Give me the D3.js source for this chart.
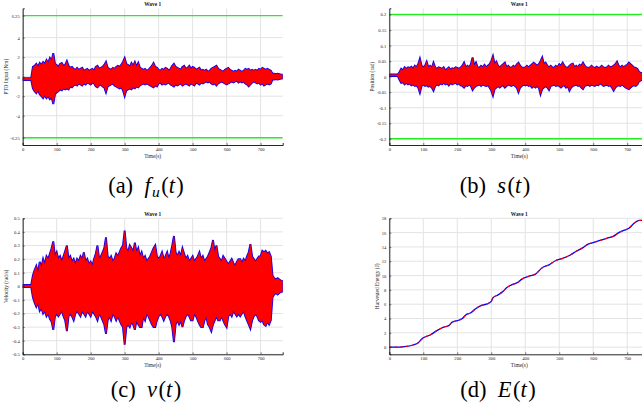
<!DOCTYPE html>
<html><head><meta charset="utf-8">
<script src="https://cdn.jsdelivr.net/npm/d3@7"></script>
<style>
html,body{margin:0;padding:0;background:#fff;}
svg{display:block;}
svg text{font-family:"Liberation Serif","Times New Roman",Times,"DejaVu Serif",serif;}
</style></head>
<body><svg id="c" width="642" height="416"></svg>
<script>
// ---------------- DATA ----------------
// sample times (s) for envelopes: 0,5,...,765
const sigTime = d3.range(0, 766, 5);

// PTO input (Nm) envelope, upper / lower
const fuUpper = [-0.15,-0.15,-0.15,-0.15,-0.15,-0.15,
1.0,1.1,1.3,1.0,1.4,1.2,1.5,1.3,1.7,1.4,1.9,1.6,2.4,1.3,1.2,1.0,1.3,1.4,1.1,1.2,1.6,1.1,0.9,1.0,
0.8,0.7,0.9,0.7,0.8,0.9,0.6,0.7,0.8,0.6,0.7,0.8,0.6,1.0,1.1,0.8,0.9,1.0,1.2,1.5,0.9,0.8,0.7,0.9,
0.8,1.0,1.1,1.0,1.2,1.5,1.9,1.3,1.2,1.0,1.4,1.1,1.5,1.0,1.4,0.9,0.8,0.7,0.8,0.6,0.7,0.9,1.1,1.4,
1.0,0.9,0.7,0.6,0.8,0.7,0.9,0.8,0.6,0.8,1.1,1.3,1.0,0.9,0.8,0.7,1.0,1.1,0.8,0.9,1.1,0.8,1.0,0.9,
0.7,0.8,0.9,0.6,0.7,0.6,0.7,0.5,0.6,0.8,0.9,1.0,1.1,0.8,0.7,0.6,0.5,0.7,0.8,0.9,0.7,0.6,0.5,0.6,
0.5,0.7,0.6,0.5,0.6,0.8,0.7,0.8,0.6,0.7,0.6,0.7,0.6,0.8,0.7,0.9,0.8,0.7,0.8,0.7,0.6,0.3,0.3,0.25,
0.3,0.25,0.2,0.2];
const fuLower = [-0.35,-0.35,-0.35,-0.35,-0.35,-0.35,
-1.2,-1.5,-1.7,-1.4,-1.8,-2.0,-2.2,-1.9,-2.2,-2.0,-2.3,-2.1,-2.8,-1.8,-1.6,-1.5,-1.3,-1.4,-1.2,-1.3,-1.2,-1.3,-1.0,-1.1,
-0.9,-0.8,-0.9,-0.7,-0.8,-0.9,-0.7,-0.8,-0.6,-0.7,-0.8,-0.6,-0.7,-1.0,-1.1,-0.9,-0.8,-1.0,-1.1,-1.6,-1.0,-0.9,-0.8,-0.7,
-0.9,-1.0,-1.1,-1.2,-1.1,-1.4,-2.0,-1.4,-1.3,-1.2,-1.3,-1.1,-1.2,-1.0,-1.1,-0.9,-0.8,-0.7,-0.8,-0.7,-0.8,-0.9,-1.0,-1.1,
-0.9,-1.0,-0.7,-0.6,-0.8,-0.7,-0.8,-0.7,-0.6,-0.8,-0.9,-1.0,-0.8,-0.9,-0.8,-0.7,-0.9,-0.8,-0.7,-0.8,-0.9,-0.7,-0.8,-0.9,
-0.6,-0.7,-0.8,-0.6,-0.7,-0.6,-0.5,-0.6,-0.5,-0.7,-0.8,-0.7,-0.9,-0.7,-0.6,-0.5,-0.6,-0.7,-0.8,-0.7,-0.6,-0.5,-0.6,-0.5,
-0.4,-0.6,-0.5,-0.6,-0.5,-0.7,-0.8,-1.0,-0.8,-0.6,-0.5,-0.6,-0.7,-0.6,-0.8,-0.7,-0.9,-0.8,-0.7,-0.8,-0.7,-0.3,-0.3,-0.25,
-0.3,-0.25,-0.2,-0.2];

// Position (rad) envelope
const sUpper = [0.007,0.007,0.007,0.007,0.007,0.007,
0.015,0.025,0.02,0.03,0.025,0.03,0.028,0.032,0.025,0.035,0.03,0.04,0.058,0.035,0.03,0.035,0.048,0.03,0.035,0.028,0.045,0.03,0.025,0.03,
0.028,0.025,0.03,0.02,0.025,0.03,0.022,0.027,0.025,0.03,0.028,0.025,0.03,0.035,0.045,0.03,0.035,0.03,0.04,0.062,0.035,0.045,0.03,0.028,
0.035,0.03,0.038,0.03,0.035,0.04,0.05,0.066,0.04,0.048,0.035,0.03,0.035,0.04,0.045,0.03,0.035,0.028,0.03,0.035,0.03,0.04,0.045,0.035,
0.03,0.028,0.03,0.035,0.03,0.035,0.04,0.045,0.04,0.035,0.04,0.05,0.062,0.04,0.045,0.035,0.03,0.035,0.03,0.028,0.035,0.03,0.04,0.035,
0.045,0.035,0.03,0.028,0.035,0.04,0.042,0.03,0.035,0.03,0.038,0.035,0.045,0.035,0.03,0.028,0.03,0.035,0.03,0.028,0.032,0.028,0.03,0.035,
0.03,0.028,0.03,0.035,0.03,0.032,0.035,0.04,0.048,0.035,0.03,0.035,0.03,0.035,0.038,0.045,0.04,0.035,0.03,0.028,0.025,0.015,0.012,0.012,
0.01,0.01,0.01,0.01];
const sLower = [0.002,0.002,0.002,0.002,0.002,0.002,
-0.01,-0.02,-0.018,-0.025,-0.02,-0.025,-0.022,-0.028,-0.025,-0.03,-0.028,-0.035,-0.052,-0.03,-0.025,-0.03,-0.028,-0.032,-0.03,-0.035,-0.045,-0.03,-0.025,-0.028,
-0.022,-0.025,-0.02,-0.025,-0.022,-0.028,-0.02,-0.025,-0.022,-0.02,-0.025,-0.022,-0.028,-0.03,-0.035,-0.028,-0.03,-0.025,-0.03,-0.043,-0.035,-0.03,-0.028,-0.025,
-0.03,-0.025,-0.028,-0.03,-0.028,-0.035,-0.045,-0.061,-0.04,-0.035,-0.03,-0.035,-0.03,-0.028,-0.035,-0.03,-0.025,-0.028,-0.03,-0.025,-0.03,-0.035,-0.05,-0.035,
-0.03,-0.025,-0.028,-0.025,-0.03,-0.028,-0.035,-0.03,-0.035,-0.03,-0.035,-0.057,-0.04,-0.035,-0.03,-0.035,-0.043,-0.03,-0.028,-0.025,-0.03,-0.028,-0.03,-0.035,
-0.03,-0.028,-0.035,-0.03,-0.045,-0.035,-0.03,-0.028,-0.025,-0.03,-0.028,-0.035,-0.04,-0.03,-0.028,-0.025,-0.03,-0.025,-0.028,-0.03,-0.025,-0.028,-0.022,-0.025,
-0.03,-0.028,-0.025,-0.03,-0.028,-0.035,-0.045,-0.035,-0.03,-0.028,-0.03,-0.025,-0.03,-0.035,-0.038,-0.04,-0.035,-0.03,-0.028,-0.03,-0.025,-0.015,-0.012,-0.01,
-0.01,-0.01,-0.01,-0.01];

// Velocity (rad/s) envelope
const vUpper = [0.01,0.01,0.01,0.01,0.01,0.01,
0.08,0.12,0.15,0.1,0.18,0.14,0.2,0.16,0.22,0.2,0.24,0.28,0.33,0.22,0.25,0.2,0.22,0.18,0.22,0.26,0.3,0.2,0.22,0.18,
0.2,0.16,0.2,0.18,0.22,0.2,0.25,0.18,0.2,0.16,0.18,0.15,0.2,0.24,0.3,0.2,0.22,0.25,0.28,0.36,0.22,0.2,0.22,0.18,
0.2,0.24,0.22,0.25,0.28,0.3,0.41,0.28,0.25,0.3,0.28,0.25,0.32,0.25,0.28,0.22,0.25,0.2,0.22,0.18,0.2,0.22,0.25,0.28,
0.3,0.22,0.2,0.22,0.25,0.2,0.22,0.25,0.2,0.24,0.3,0.37,0.25,0.22,0.25,0.22,0.28,0.24,0.2,0.22,0.18,0.2,0.22,0.18,
0.2,0.22,0.25,0.2,0.22,0.18,0.2,0.22,0.25,0.28,0.34,0.25,0.3,0.22,0.2,0.18,0.22,0.2,0.18,0.16,0.18,0.2,0.17,0.15,
0.18,0.2,0.2,0.17,0.2,0.18,0.22,0.25,0.31,0.22,0.2,0.18,0.2,0.22,0.22,0.26,0.25,0.26,0.24,0.25,0.22,0.08,0.06,0.05,
0.06,0.05,0.04,0.04];
const vLower = [-0.005,-0.005,-0.005,-0.005,-0.005,-0.005,
-0.08,-0.12,-0.15,-0.12,-0.18,-0.16,-0.2,-0.18,-0.22,-0.2,-0.24,-0.26,-0.32,-0.22,-0.2,-0.22,-0.2,-0.18,-0.22,-0.25,-0.33,-0.22,-0.2,-0.22,
-0.25,-0.2,-0.18,-0.2,-0.22,-0.18,-0.2,-0.22,-0.18,-0.2,-0.22,-0.18,-0.2,-0.22,-0.25,-0.2,-0.22,-0.25,-0.28,-0.35,-0.25,-0.22,-0.25,-0.2,
-0.22,-0.25,-0.22,-0.25,-0.28,-0.3,-0.43,-0.3,-0.28,-0.3,-0.26,-0.28,-0.32,-0.25,-0.28,-0.3,-0.3,-0.22,-0.25,-0.2,-0.22,-0.25,-0.28,-0.3,
-0.3,-0.25,-0.22,-0.2,-0.22,-0.25,-0.22,-0.2,-0.22,-0.25,-0.3,-0.41,-0.28,-0.25,-0.28,-0.25,-0.3,-0.25,-0.22,-0.2,-0.22,-0.25,-0.25,-0.2,
-0.22,-0.25,-0.28,-0.3,-0.3,-0.25,-0.22,-0.28,-0.3,-0.33,-0.28,-0.25,-0.22,-0.25,-0.25,-0.22,-0.25,-0.28,-0.3,-0.22,-0.2,-0.22,-0.18,-0.2,
-0.22,-0.2,-0.22,-0.2,-0.18,-0.22,-0.25,-0.28,-0.31,-0.25,-0.22,-0.2,-0.22,-0.25,-0.26,-0.25,-0.28,-0.29,-0.26,-0.28,-0.25,-0.08,-0.06,-0.05,
-0.06,-0.05,-0.04,-0.04];

// Harvested energy (J)
const eTime  = [0,30,50,70,85,95,100,120,140,160,175,185,200,215,225,240,255,270,285,300,305,320,335,345,360,380,390,410,430,450,470,490,510,530,550,570,585,600,620,640,660,675,690,705,720,735,765];
const eValue = [0,0,0.1,0.3,0.6,1.1,1.3,1.7,2.3,2.8,3.0,3.5,3.7,4.0,4.5,4.8,5.4,5.8,6.0,6.4,6.9,7.3,7.8,8.3,8.7,9.1,9.5,9.9,10.2,11.1,11.5,12.1,12.4,12.8,13.4,13.9,14.4,14.6,14.9,15.2,15.5,16.0,16.3,16.6,17.3,17.7,17.75];

const xTicks = [0,100,200,300,400,500,600,700];
const fuTicks = [-6.25,-4,-2,0,2,4,6.25];
const sTicks = [-0.2,-0.15,-0.1,-0.05,0,0.05,0.1,0.15,0.2];
const vTicks = [-0.5,-0.4,-0.3,-0.2,-0.1,0,0.1,0.2,0.3,0.4,0.5];
const eTicks = [0,2,4,6,8,10,12,14,16,18];
const fuLimit = [6.25,-6.25];
const sLimit = [0.2,-0.2];
const captions = ["(a)","(b)","(c)","(d)"];

// ---------------- DRAW ----------------
const svg = d3.select("#c");
const blue = "#0000ff", red = "#ff0000", green = "#22ee22";
const SERIF = '"Liberation Serif","Times New Roman",Times,"DejaVu Serif",serif';

function panel(o){
  const g = svg.append("g");
  const x = d3.scaleLinear().domain([0,765]).range([o.x0,o.x0+260]);
  const y = d3.scaleLinear().domain(o.ydom).range([o.yBot,o.yTop]);
  const clipId = "clip"+o.id;
  svg.append("clipPath").attr("id",clipId).append("rect")
    .attr("x",o.x0).attr("y",o.yTop).attr("width",260).attr("height",o.yBot-o.yTop);
  // grid
  g.append("g").selectAll("line").data(xTicks).join("line")
    .attr("x1",d=>x(d)).attr("x2",d=>x(d)).attr("y1",o.yTop).attr("y2",o.yBot)
    .attr("stroke","#e3e3e3").attr("stroke-width",1);
  g.append("g").selectAll("line").data(o.yticks).join("line")
    .attr("x1",o.x0).attr("x2",o.x0+260).attr("y1",d=>y(d)).attr("y2",d=>y(d))
    .attr("stroke","#e3e3e3").attr("stroke-width",1);
  const pg = g.append("g").attr("clip-path",`url(#${clipId})`);
  o.draw(pg,x,y);
  // axes
  const ax = d3.axisBottom(x).tickValues(xTicks).tickSize(-2).tickPadding(3).tickFormat(d3.format("d"));
  const gx = g.append("g").attr("transform",`translate(0,${o.yBot})`).call(ax);
  const ay = d3.axisLeft(y).tickValues(o.yticks).tickSize(-2).tickPadding(3).tickFormat(o.fmt);
  const gy = g.append("g").attr("transform",`translate(${o.x0},0)`).call(ay);
  [gx,gy].forEach(a=>{
    a.attr("font-family",SERIF);
    a.select(".domain").attr("stroke","#262626").attr("stroke-width",1);
    a.selectAll(".tick line").attr("stroke","#262626").attr("stroke-width",0.6);
    a.selectAll("text").attr("font-size",4.6).attr("fill","#262626").attr("font-family",SERIF);
  });
  gx.selectAll("text").attr("dy","0.55em");
  // texts
  g.append("text").attr("x",o.x0+130).attr("y",o.yTop-2.3).attr("text-anchor","middle").attr("font-family",SERIF)
    .attr("font-size",5.4).attr("font-weight","bold").attr("fill","#111").text("Wave 1");
  g.append("text").attr("x",o.x0+130).attr("y",o.yBot+12.8).attr("text-anchor","middle").attr("font-family",SERIF)
    .attr("font-size",5.4).attr("fill","#262626").text("Time(s)");
  g.append("text").attr("transform",`translate(${o.ylx},${(o.yTop+o.yBot)/2}) rotate(-90)`).attr("font-family",SERIF)
    .attr("text-anchor","middle").attr("font-size",5.4).attr("fill","#262626").text(o.ylabel);
}

function envelope(pg,x,y,up,lo){
  const pts = sigTime.map((t,i)=>({t,u:up[i],l:lo[i]})).filter(d=>d.u!==undefined&&d.l!==undefined);
  const ar = d3.area().x(d=>x(d.t)).y0(d=>y(d.l)).y1(d=>y(d.u));
  pg.append("path").attr("d",ar(pts)).attr("fill",blue).attr("stroke",blue).attr("stroke-width",1.9).attr("stroke-linejoin","miter");
  pg.append("path").attr("d",ar(pts)).attr("fill",red).attr("stroke",red).attr("stroke-width",0.3);
}
function limits(pg,x,y,vals){
  pg.append("g").selectAll("line").data(vals).join("line")
    .attr("x1",x(0)).attr("x2",x(765)).attr("y1",d=>y(d)).attr("y2",d=>y(d))
    .attr("stroke",green).attr("stroke-width",1.4);
}

panel({id:"a",x0:22.7,yTop:8.3,yBot:145,ydom:[-7,7],yticks:fuTicks,fmt:d=>String(d),
  ylx:8.3,ylabel:"PTO Input (Nm)",
  draw:(pg,x,y)=>{ envelope(pg,x,y,fuUpper,fuLower); limits(pg,x,y,fuLimit); }});
panel({id:"b",x0:389.3,yTop:8.3,yBot:145,ydom:[-0.22,0.22],yticks:sTicks,fmt:d=>String(d),
  ylx:374.3,ylabel:"Position (rad)",
  draw:(pg,x,y)=>{ envelope(pg,x,y,sUpper,sLower); limits(pg,x,y,sLimit); }});
panel({id:"c",x0:22.7,yTop:218.3,yBot:354.3,ydom:[-0.5,0.5],yticks:vTicks,fmt:d=>String(d),
  ylx:8.3,ylabel:"Velocity (rad/s)",
  draw:(pg,x,y)=>{ envelope(pg,x,y,vUpper,vLower); }});
panel({id:"d",x0:389.3,yTop:218.3,yBot:354.3,ydom:[-1,18],yticks:eTicks,fmt:d=>String(d),
  ylx:379.3,ylabel:"Harvested Energy (J)",
  draw:(pg,x,y)=>{
    const pts = eTime.map((t,i)=>[t,eValue[i]]);
    const ln = d3.line().x(d=>x(d[0])).y(d=>y(d[1])).curve(d3.curveMonotoneX);
    pg.append("path").attr("d",ln(pts)).attr("fill","none").attr("stroke",blue).attr("stroke-width",1.3);
    pg.append("path").attr("d",ln(pts)).attr("fill","none").attr("stroke",red).attr("stroke-width",1.1).attr("stroke-dasharray","2.5,3");
  }});

// captions
function caption(cx,by,label,parts){
  const t = svg.append("text").attr("x",cx).attr("y",by).attr("text-anchor","middle")
    .attr("font-size",22.5).attr("fill","#000").attr("font-family",SERIF);
  t.append("tspan").text(label+"\u2002");
  parts.forEach(p=>{
    const s = t.append("tspan").text(p.t);
    if(p.i) s.attr("font-style","italic");
    if(p.sub) s.attr("font-size",15.5).attr("dy",3.8);
    if(p.up) s.attr("dy",-3.8);
    if(p.gap) s.attr("dx",1.4);
  });
}
caption(146,193,captions[0],[{t:"f",i:1},{t:"u",i:1,sub:1,gap:1},{t:"(",up:1,gap:1},{t:"t",i:1},{t:")",gap:1}]);
caption(495,193,captions[1],[{t:"s",i:1},{t:"(",gap:1},{t:"t",i:1},{t:")",gap:1}]);
caption(146,397,captions[2],[{t:"v",i:1},{t:"(",gap:1},{t:"t",i:1},{t:")",gap:1}]);
caption(498,397,captions[3],[{t:"E",i:1},{t:"(",gap:1},{t:"t",i:1},{t:")",gap:1}]);
</script></body></html>
